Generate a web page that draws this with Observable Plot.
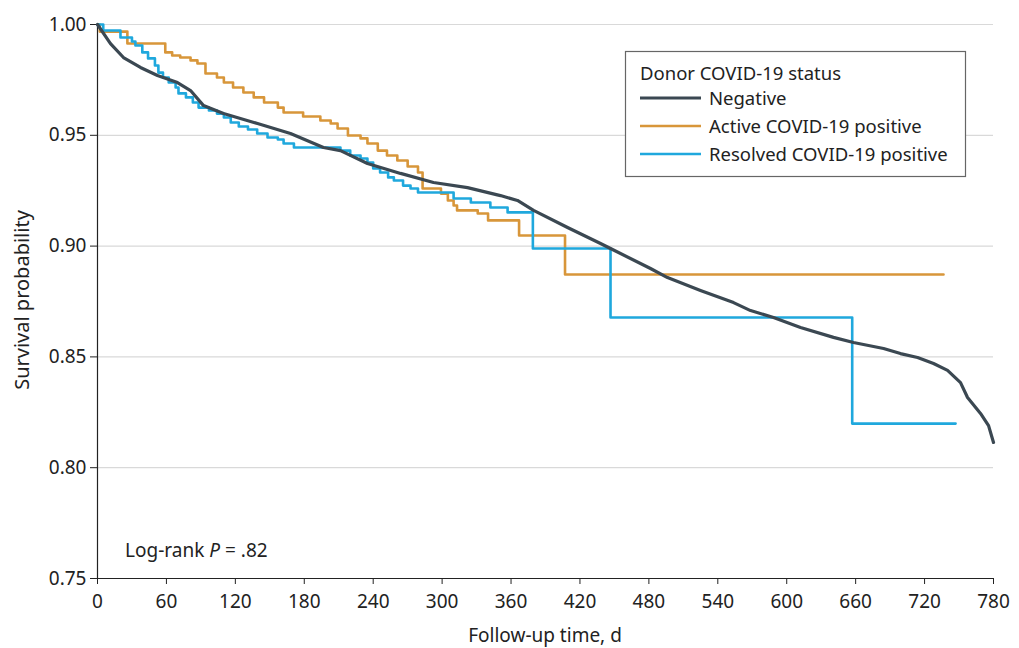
<!DOCTYPE html>
<html>
<head>
<meta charset="utf-8">
<script src="https://cdn.jsdelivr.net/npm/d3@7"></script>
<script src="https://cdn.jsdelivr.net/npm/@observablehq/plot@0.6"></script>
<style>
  body { margin: 0; background: #fff; }
  #chart { position: relative; width: 1019px; height: 648px; }
</style>
</head>
<body>
<div id="chart"></div>
<script>
// ---- Data ----
const seriesNames = ["Negative", "Active COVID-19 positive", "Resolved COVID-19 positive"];
const seriesColors = ["#3b4852", "#d8963a", "#1fa8dd"];

const negDays = [0, 11.3, 22.6, 37.4, 52.2, 69.6, 81.0, 92.3, 109.7, 139.3, 168.0, 196.7, 211.5, 235.0, 263.8, 292.5, 322.1, 350.8, 365.6, 379.6, 409.2, 437.9, 446.6, 481.4, 496.2, 524.9, 553.7, 568.5, 588.5, 612.0, 640.7, 658.1, 684.3, 699.0, 713.9, 727.8, 740.0, 751.3, 757.4, 768.7, 775.7, 780.0];
const negSurv = [1.000, 0.9914, 0.9851, 0.9806, 0.9770, 0.9738, 0.9702, 0.9634, 0.9598, 0.9553, 0.9508, 0.9445, 0.9431, 0.9373, 0.9328, 0.9287, 0.9264, 0.9228, 0.9206, 0.9161, 0.9084, 0.9012, 0.8989, 0.8899, 0.8858, 0.8800, 0.8745, 0.8709, 0.8678, 0.8633, 0.8588, 0.8565, 0.8538, 0.8515, 0.8497, 0.8470, 0.8439, 0.8384, 0.8317, 0.8245, 0.8190, 0.8114];

const actDays = [0, 2, 26, 59, 65, 72, 81, 87, 94, 104, 110, 118, 127, 136, 145, 157, 162, 179, 194, 203, 209, 218, 229, 235, 244, 252, 261, 270, 279, 283, 299, 305, 310, 313, 331, 340, 367, 407, 736.5];
const actSurv = [1.000, 0.9968, 0.9914, 0.9874, 0.9860, 0.9851, 0.9838, 0.9824, 0.9779, 0.9761, 0.9738, 0.9716, 0.9693, 0.9671, 0.9648, 0.9625, 0.9603, 0.9585, 0.9567, 0.9553, 0.9531, 0.9499, 0.9486, 0.9463, 0.9431, 0.9409, 0.9386, 0.9359, 0.9332, 0.9260, 0.9237, 0.9206, 0.9183, 0.9161, 0.9147, 0.9116, 0.9048, 0.8872, 0.8872];

const resDays = [0, 5, 20, 30, 33, 39, 44, 50, 53, 57, 62, 68, 70.5, 77, 83, 88, 97, 104, 110, 116, 123, 131, 139, 148, 157, 162, 171, 211.5, 220, 229, 235, 240, 246, 253, 258, 266, 272.5, 279, 310, 325, 342, 357, 379, 446.6, 657, 747];
const resSurv = [1.000, 0.9973, 0.9941, 0.9923, 0.9905, 0.9874, 0.9847, 0.9815, 0.9783, 0.9761, 0.9738, 0.9716, 0.9689, 0.9671, 0.9648, 0.9625, 0.9612, 0.9598, 0.9580, 0.9558, 0.9540, 0.9526, 0.9508, 0.9490, 0.9481, 0.9463, 0.9445, 0.9431, 0.9409, 0.9395, 0.9377, 0.9350, 0.9332, 0.9310, 0.9296, 0.9273, 0.9260, 0.9242, 0.9215, 0.9197, 0.9174, 0.9152, 0.8989, 0.8678, 0.8199, 0.8199];

const xTicks = [0, 60, 120, 180, 240, 300, 360, 420, 480, 540, 600, 660, 720, 780];
const yTicks = [0.75, 0.80, 0.85, 0.90, 0.95, 1.00];
const gridTicks = [0.80, 0.85, 0.90, 0.95, 1.00];
const annotation = {x: 24, y: 0.7625, pre: "Log-rank ", italic: "P", post: " = .82"};
const legendTitle = "Donor COVID-19 status";

// ---- Build tables ----
const toRows = (days, surv, name) => days.map((d, i) => ({day: d, surv: surv[i], group: name}));
const negRows = toRows(negDays, negSurv, seriesNames[0]);
const actRows = toRows(actDays, actSurv, seriesNames[1]);
const resRows = toRows(resDays, resSurv, seriesNames[2]);

const sans = "'Noto Sans', 'Open Sans', sans-serif";

const plot = Plot.plot({
  width: 1019,
  height: 648,
  marginLeft: 97,
  marginRight: 26,
  marginTop: 24,
  marginBottom: 70,
  style: {fontFamily: sans, fontSize: "19px", color: "#222", background: "#fff", overflow: "visible"},
  x: {domain: [0, 780]},
  y: {domain: [0.75, 1.0]},
  marks: [
    Plot.gridY(gridTicks, {stroke: "#d9d9d9", strokeOpacity: 1, strokeWidth: 1.2}),
    Plot.axisY(yTicks, {tickFormat: d3.format(".2f"), tickSize: 7, tickPadding: 4, label: null, fontSize: 19}),
    Plot.axisX(xTicks, {tickSize: 6, tickPadding: 10, label: null, fontSize: 19}),
    Plot.ruleY([0.75], {stroke: "#222", strokeWidth: 1.2}),
    Plot.ruleX([0], {stroke: "#222", strokeWidth: 1.2}),
    Plot.line(actRows, {x: "day", y: "surv", curve: "step-after", stroke: seriesColors[1], strokeWidth: 2.6}),
    Plot.line(resRows, {x: "day", y: "surv", curve: "step-after", stroke: seriesColors[2], strokeWidth: 2.6}),
    Plot.line(negRows, {x: "day", y: "surv", curve: "linear", stroke: seriesColors[0], strokeWidth: 3.2}),
    Plot.text([annotation], {x: "x", y: "y", text: d => d.pre + d.italic + d.post, textAnchor: "start", fontSize: 19, fill: "#222", className: "logrank"})
  ]
});

document.getElementById("chart").appendChild(plot);

const svg = d3.select(plot);

// Italic P in annotation
svg.selectAll(".logrank text").each(function() {
  const t = d3.select(this);
  t.text(null);
  t.append("tspan").text(annotation.pre);
  t.append("tspan").attr("font-style", "italic").text(annotation.italic);
  t.append("tspan").text(annotation.post);
});

// Axis titles
svg.append("text")
  .attr("transform", "translate(29,300) rotate(-90)")
  .attr("text-anchor", "middle").attr("font-size", 20).attr("fill", "#222")
  .attr("font-family", sans)
  .text("Survival probability");
svg.append("text")
  .attr("x", 545).attr("y", 642)
  .attr("text-anchor", "middle").attr("font-size", 19).attr("fill", "#222")
  .attr("font-family", sans)
  .text("Follow-up time, d");

// Legend (inside the SVG)
const lg = svg.append("g").attr("font-family", sans).attr("font-size", 18.5)
  .attr("fill", "#222").attr("text-anchor", "start");
lg.append("rect").attr("x", 625.5).attr("y", 51.5).attr("width", 340).attr("height", 125)
  .attr("fill", "#fff").attr("stroke", "#666").attr("stroke-width", 1.2);
lg.append("text").attr("x", 640).attr("y", 80).text(legendTitle);
seriesNames.forEach((name, i) => {
  const y = 98 + i * 28;
  lg.append("line").attr("x1", 640).attr("x2", 701).attr("y1", y).attr("y2", y)
    .attr("stroke", seriesColors[i]).attr("stroke-width", i === 0 ? 3 : 2.6);
  lg.append("text").attr("x", 709).attr("y", y + 7).text(name);
});
</script>
</body>
</html>
